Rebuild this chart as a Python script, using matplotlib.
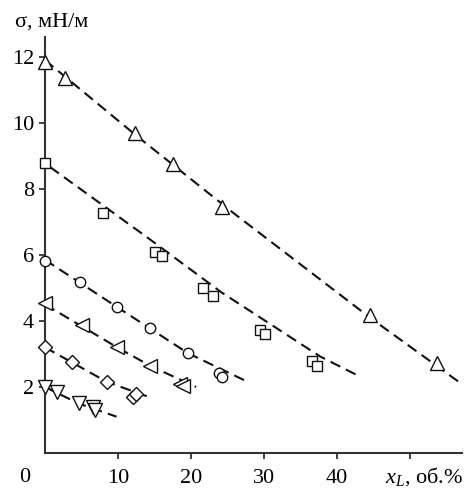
import numpy as np
import matplotlib
matplotlib.use("Agg")
import matplotlib.pyplot as plt

plt.rcParams['font.family'] = ['Liberation Serif', 'DejaVu Serif']
plt.rcParams['mathtext.fontset'] = 'custom'
plt.rcParams['mathtext.rm'] = 'Liberation Serif'
plt.rcParams['mathtext.it'] = 'Liberation Serif:italic'

# measured points (x_L, vol.%; sigma, mN/m)

x_up = [0, 2.7, 12.3, 17.5, 24.2, 44.5, 53.7]
y_up = [11.85, 11.36, 9.7, 8.75, 7.45, 4.18, 2.73]

x_sq = [0, 8.0, 15.1, 16.0, 21.7, 23.0, 29.5, 30.1, 36.6, 37.2]
y_sq = [8.78, 7.27, 6.1, 5.97, 5.0, 4.76, 3.73, 3.6, 2.79, 2.64]

x_ci = [0, 4.8, 9.8, 14.4, 19.6, 23.8, 24.3]
y_ci = [5.82, 5.18, 4.43, 3.79, 3.02, 2.42, 2.3]

x_lt = [0, 5.0, 9.8, 14.4, 18.5, 18.9]
y_lt = [4.54, 3.88, 3.21, 2.64, 2.1, 2.03]

x_di = [0, 3.7, 8.5, 12.1, 12.5]
y_di = [3.21, 2.76, 2.15, 1.7, 1.79]

x_dn = [0, 1.7, 4.6, 6.6, 6.8]
y_dn = [2.0, 1.85, 1.5, 1.4, 1.3]

# dashed curves

cx_up = [0, 12.3, 25.8, 44.5, 57]
cy_up = [11.9, 9.65, 7.27, 4.1, 2.1]
cx_sq = [0.7, 14, 24.2, 37.7, 42.9]
cy_sq = [8.66, 6.53, 4.86, 2.92, 2.34]
cx_ci = [0, 9.8, 19.6, 27.8]
cy_ci = [5.85, 4.43, 3.02, 2.15]
cx_lt = [0, 9.8, 14.4, 20.7]
cy_lt = [4.5, 3.21, 2.64, 2.0]
cx_di = [0, 8.5, 14.2]
cy_di = [3.2, 2.15, 1.7]
cx_dn = [0, 4.6, 9.8]
cy_dn = [2.0, 1.5, 1.1]

series = [
    (x_up, y_up, cx_up, cy_up, '^', 10.5),
    (x_sq, y_sq, cx_sq, cy_sq, 's', 7.5),
    (x_ci, y_ci, cx_ci, cy_ci, 'o', 7.5),
    (x_lt, y_lt, cx_lt, cy_lt, '<', 10),
    (x_di, y_di, cx_di, cy_di, 'D', 7.5),
    (x_dn, y_dn, cx_dn, cy_dn, 'v', 10),
]

W, H = 465, 490
fig = plt.figure(figsize=(W/100, H/100), dpi=100)
ax = fig.add_axes([45/W, 37/H, 417/W, 416/H])

for xs, ys, cx, cy, m, ms in series:
    ax.plot(cx, cy, color='#111111', lw=1.5, dashes=(5.2, 3.0), zorder=2)
    ax.plot(xs, ys, linestyle='none', marker=m, ms=ms, mfc='white',
            mec='#111111', mew=1.0, zorder=3, clip_on=False)

ax.set_xlim(0, 57.1)
ax.set_ylim(0, 12.6)

for s in ['top', 'right']:
    ax.spines[s].set_visible(False)
for s in ['left', 'bottom']:
    ax.spines[s].set_color('#333333')
    ax.spines[s].set_linewidth(1.5)

fs = 16
ax.set_xticks([10, 20, 30, 40, 50])
ax.set_xticklabels(['10', '20', '30', '40', ''])
ax.set_yticks([2, 4, 6, 8, 10, 12])
ax.tick_params(axis='both', direction='out', length=4.5, width=1.3,
               color='#333333', labelsize=fs)
ax.tick_params(axis='x', pad=7)
ax.tick_params(axis='y', pad=3.5)

fig.text(25/W, 1 - 477/H, '0', fontsize=fs, ha='center', va='center')
fig.text(463/W, 1 - 477/H, '$x_L$, об.%', fontsize=fs, ha='right', va='center')
fig.text(15/W, 1 - 22/H, 'σ, мН/м', fontsize=fs, ha='left', va='center')

fig.savefig('out.png', dpi=100)
